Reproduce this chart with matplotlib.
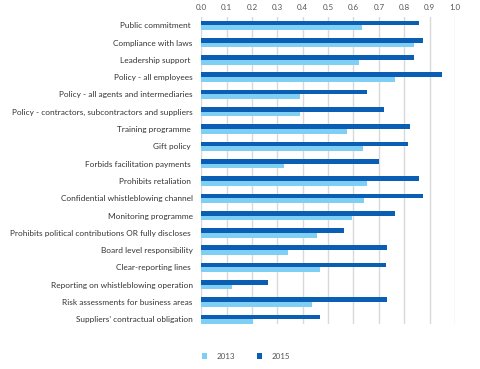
import matplotlib
matplotlib.use("Agg")
import matplotlib.pyplot as plt
import numpy as np

categories = [
    "Public commitment ",
    "Compliance with laws",
    "Leadership support ",
    "Policy - all employees",
    "Policy - all agents and intermediaries",
    "Policy - contractors, subcontractors and suppliers",
    "Training programme ",
    "Gift policy ",
    "Forbids facilitation payments ",
    "Prohibits retaliation ",
    "Confidential whistleblowing channel",
    "Monitoring programme",
    "Prohibits political contributions OR fully discloses ",
    "Board level responsibility",
    "Clear-reporting lines ",
    "Reporting on whistleblowing operation",
    "Risk assessments for business areas",
    "Suppliers' contractual obligation",
]
values_2013 = [0.635, 0.837, 0.621, 0.765, 0.388, 0.388, 0.573, 0.638, 0.327,
               0.655, 0.640, 0.593, 0.455, 0.344, 0.467, 0.121, 0.437, 0.205]
values_2015 = [0.857, 0.875, 0.837, 0.950, 0.655, 0.719, 0.823, 0.815, 0.702,
               0.857, 0.875, 0.765, 0.562, 0.732, 0.727, 0.262, 0.732, 0.468]
series_labels = ["2013", "2015"]
xticks = [0.0, 0.1, 0.2, 0.3, 0.4, 0.5, 0.6, 0.7, 0.8, 0.9, 1.0]

c2013 = "#7fcff5"
c2015 = "#0a5fb4"

plt.rcParams['font.family'] = ['Lato', 'DejaVu Sans']

fig = plt.figure(figsize=(4.8, 3.69), dpi=100)
ax = fig.add_axes([0.419, 0.122, 0.529, 0.832])

y = np.arange(len(categories))
h = 0.27
ax.barh(y - h / 2, values_2015, height=h, color=c2015, label=series_labels[1], zorder=3)
ax.barh(y + h / 2, values_2013, height=h, color=c2013, label=series_labels[0], zorder=3)

ax.set_xlim(0, 1.0)
ax.set_ylim(len(categories) - 1 + 0.27, -0.48)
ax.set_xticks(xticks)
ax.set_xticklabels([f"{t:.1f}" for t in xticks])
ax.xaxis.tick_top()
ax.tick_params(axis='x', length=0, pad=4, labelsize=5.8, colors="#555555")
ax.set_yticks(y)
ax.set_yticklabels(categories)
ax.tick_params(axis='y', length=0, pad=6, labelsize=5.95, colors="#333333")
ax.grid(axis='x', color="#d9d9d9", linewidth=1.0, zorder=0)
for s in ax.spines.values():
    s.set_visible(False)

handles, labels = ax.get_legend_handles_labels()
leg = fig.legend(handles[::-1], labels[::-1], loc='center left',
                 bbox_to_anchor=(0.405, 0.035), ncol=2, frameon=False,
                 fontsize=5.8, handlelength=0.7, handleheight=0.7,
                 columnspacing=2.6, handletextpad=1.2)
for t in leg.get_texts():
    t.set_color("#555555")

fig.savefig("out.png", dpi=100)
